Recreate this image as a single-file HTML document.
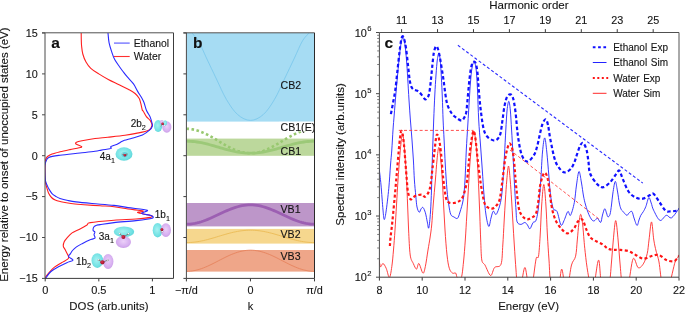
<!DOCTYPE html>
<html><head><meta charset="utf-8"><style>
html,body{margin:0;padding:0;background:#fff;}
svg{display:block;will-change:transform;}
text{font-family:"Liberation Sans", sans-serif;stroke:#151515;stroke-width:0.12px;}
</style></head><body>
<svg width="685" height="313" viewBox="0 0 685 313">
<clipPath id="ca"><rect x="45.0" y="33.0" width="128.5" height="245.39999999999998"/></clipPath>
<g clip-path="url(#ca)" fill="none" stroke-width="1.1" stroke-linejoin="round">
<path d="M81.20 33.00 C81.22 34.17 81.23 37.83 81.30 40.00 C81.37 42.17 81.35 43.67 81.60 46.00 C81.85 48.33 82.07 51.33 82.80 54.00 C83.53 56.67 84.67 59.62 86.00 62.00 C87.33 64.38 88.67 66.32 90.80 68.30 C92.93 70.28 95.88 72.03 98.80 73.90 C101.72 75.77 104.92 77.70 108.30 79.50 C111.68 81.30 115.70 83.03 119.10 84.70 C122.50 86.37 126.03 88.03 128.70 89.50 C131.37 90.97 133.37 92.03 135.10 93.50 C136.83 94.97 138.17 96.70 139.10 98.30 C140.03 99.90 140.17 101.15 140.70 103.10 C141.23 105.05 141.88 108.68 142.30 110.00 C142.72 111.32 142.52 109.90 143.20 111.00 C143.88 112.10 145.22 115.00 146.40 116.60 C147.58 118.20 149.37 119.13 150.30 120.60 C151.23 122.07 152.27 123.80 152.00 125.40 C151.73 127.00 151.37 128.87 148.70 130.20 C146.03 131.53 139.95 132.55 136.00 133.40 C132.05 134.25 129.70 134.67 125.00 135.30 C120.30 135.93 112.80 136.67 107.80 137.20 C102.80 137.73 99.30 137.90 95.00 138.50 C90.70 139.10 85.08 140.17 82.00 140.80 C78.92 141.43 77.50 141.77 76.50 142.30 C75.50 142.83 75.15 143.28 76.00 144.00 C76.85 144.72 81.10 145.97 81.60 146.60 C82.10 147.23 80.93 147.30 79.00 147.80 C77.07 148.30 73.17 148.93 70.00 149.60 C66.83 150.27 63.00 151.07 60.00 151.80 C57.00 152.53 54.08 153.22 52.00 154.00 C49.92 154.78 48.57 155.55 47.50 156.50 C46.43 157.45 46.00 158.62 45.60 159.70 C45.20 160.78 45.20 161.28 45.10 163.00 C45.00 164.72 45.00 167.50 45.00 170.00 C45.00 172.50 45.00 175.83 45.10 178.00 C45.20 180.17 45.35 181.50 45.60 183.00 C45.85 184.50 46.12 185.33 46.60 187.00 C47.08 188.67 47.68 191.25 48.50 193.00 C49.32 194.75 50.38 196.33 51.50 197.50 C52.62 198.67 53.62 199.30 55.20 200.00 C56.78 200.70 59.13 201.23 61.00 201.70 C62.87 202.17 64.07 202.42 66.40 202.80 C68.73 203.18 72.07 203.68 75.00 204.00 C77.93 204.32 79.83 204.40 84.00 204.70 C88.17 205.00 95.00 205.47 100.00 205.80 C105.00 206.13 109.33 206.17 114.00 206.70 C118.67 207.23 123.13 208.28 128.00 209.00 C132.87 209.72 141.60 210.40 143.20 211.00 C144.80 211.60 136.28 211.83 137.60 212.60 C138.92 213.37 148.98 214.80 151.10 215.60 C153.22 216.40 152.82 216.83 150.30 217.40 C147.78 217.97 142.05 218.53 136.00 219.00 C129.95 219.47 121.62 219.60 114.00 220.20 C106.38 220.80 94.80 221.80 90.30 222.60 C85.80 223.40 88.87 223.87 87.00 225.00 C85.13 226.13 81.58 228.08 79.10 229.40 C76.62 230.72 74.15 231.43 72.10 232.90 C70.05 234.37 68.12 236.73 66.80 238.20 C65.48 239.67 64.78 240.38 64.20 241.70 C63.62 243.02 63.15 244.78 63.30 246.10 C63.45 247.42 64.52 248.43 65.10 249.60 C65.68 250.77 66.22 251.93 66.80 253.10 C67.38 254.27 68.45 255.58 68.60 256.60 C68.75 257.62 68.88 258.18 67.70 259.20 C66.52 260.22 63.70 261.38 61.50 262.70 C59.30 264.02 56.53 265.48 54.50 267.10 C52.47 268.72 50.75 270.78 49.30 272.40 C47.85 274.02 46.48 275.70 45.80 276.80 C45.12 277.90 45.30 278.63 45.20 279.00" stroke="#ff2020"/>
<path d="M108.00 33.00 C108.18 34.63 108.45 39.57 109.10 42.80 C109.75 46.03 110.97 49.60 111.90 52.40 C112.83 55.20 113.43 57.22 114.70 59.60 C115.97 61.98 118.12 64.72 119.50 66.70 C120.88 68.68 121.73 69.83 123.00 71.50 C124.27 73.17 125.35 74.63 127.10 76.70 C128.85 78.77 131.77 81.50 133.50 83.90 C135.23 86.30 136.17 88.83 137.50 91.10 C138.83 93.37 140.43 95.63 141.50 97.50 C142.57 99.37 143.10 100.22 143.90 102.30 C144.70 104.38 145.53 108.05 146.30 110.00 C147.07 111.95 147.83 112.77 148.50 114.00 C149.17 115.23 149.72 115.90 150.30 117.40 C150.88 118.90 151.67 121.53 152.00 123.00 C152.33 124.47 152.72 125.00 152.30 126.20 C151.88 127.40 151.15 128.73 149.50 130.20 C147.85 131.67 145.32 133.67 142.40 135.00 C139.48 136.33 135.00 137.32 132.00 138.20 C129.00 139.08 126.32 139.63 124.40 140.30 C122.48 140.97 121.78 141.48 120.50 142.20 C119.22 142.92 117.97 144.02 116.70 144.60 C115.43 145.18 113.93 145.32 112.90 145.70 C111.87 146.08 110.73 146.50 110.50 146.90 C110.27 147.30 111.63 147.78 111.50 148.10 C111.37 148.42 111.38 148.47 109.70 148.80 C108.02 149.13 103.85 149.68 101.40 150.10 C98.95 150.52 98.57 150.82 95.00 151.30 C91.43 151.78 85.83 152.35 80.00 153.00 C74.17 153.65 65.20 154.47 60.00 155.20 C54.80 155.93 51.13 156.38 48.80 157.40 C46.47 158.42 46.63 160.03 46.00 161.30 C45.37 162.57 45.20 163.88 45.00 165.00 C44.80 166.12 44.80 166.33 44.80 168.00 C44.80 169.67 44.88 172.87 45.00 175.00 C45.12 177.13 45.17 179.13 45.50 180.80 C45.83 182.47 46.45 183.67 47.00 185.00 C47.55 186.33 47.97 187.37 48.80 188.80 C49.63 190.23 50.80 192.32 52.00 193.60 C53.20 194.88 54.67 195.70 56.00 196.50 C57.33 197.30 58.00 197.73 60.00 198.40 C62.00 199.07 65.33 199.92 68.00 200.50 C70.67 201.08 72.00 201.40 76.00 201.90 C80.00 202.40 85.67 202.92 92.00 203.50 C98.33 204.08 108.00 204.72 114.00 205.40 C120.00 206.08 122.47 206.80 128.00 207.60 C133.53 208.40 144.93 209.23 147.20 210.20 C149.47 211.17 140.95 212.50 141.60 213.40 C142.25 214.30 149.37 214.80 151.10 215.60 C152.83 216.40 154.52 217.37 152.00 218.20 C149.48 219.03 142.33 219.87 136.00 220.60 C129.67 221.33 120.00 221.93 114.00 222.60 C108.00 223.27 102.90 224.17 100.00 224.60 C97.10 225.03 97.60 224.83 96.60 225.20 C95.60 225.57 94.58 225.95 94.00 226.80 C93.42 227.65 92.95 229.43 93.10 230.30 C93.25 231.17 94.75 231.28 94.90 232.00 C95.05 232.72 94.00 233.57 94.00 234.60 C94.00 235.63 95.63 237.32 94.90 238.20 C94.17 239.08 91.65 239.03 89.60 239.90 C87.55 240.77 84.78 242.23 82.60 243.40 C80.42 244.57 78.18 245.72 76.50 246.90 C74.82 248.08 73.53 249.33 72.50 250.50 C71.47 251.67 70.95 252.88 70.30 253.90 C69.65 254.92 68.15 255.57 68.60 256.60 C69.05 257.63 73.30 259.08 73.00 260.10 C72.70 261.12 69.30 261.53 66.80 262.70 C64.30 263.87 60.63 265.63 58.00 267.10 C55.37 268.57 52.90 269.88 51.00 271.50 C49.10 273.12 47.52 275.55 46.60 276.80 C45.68 278.05 45.68 278.63 45.50 279.00" stroke="#2a2aff"/>
</g>
<defs><radialGradient id="gC" cx="0.45" cy="0.45" r="0.6"><stop offset="0" stop-color="#a6f2f2"/><stop offset="0.7" stop-color="#74e2e4"/><stop offset="1" stop-color="#5ad4d8"/></radialGradient><radialGradient id="gV" cx="0.5" cy="0.45" r="0.6"><stop offset="0" stop-color="#ecd0f9"/><stop offset="0.7" stop-color="#d6aef0"/><stop offset="1" stop-color="#c597e4"/></radialGradient><radialGradient id="gR" cx="0.4" cy="0.4" r="0.6"><stop offset="0" stop-color="#e03050"/><stop offset="1" stop-color="#9a0f25"/></radialGradient><radialGradient id="gH" cx="0.4" cy="0.4" r="0.6"><stop offset="0" stop-color="#ffffff"/><stop offset="1" stop-color="#8a8a8a"/></radialGradient></defs>
<ellipse cx="158.1" cy="126" rx="4.1" ry="6.1" fill="url(#gC)" fill-opacity="1"/>
<ellipse cx="166.8" cy="127" rx="4.6" ry="5.7" fill="url(#gV)" fill-opacity="1"/>
<ellipse cx="161.8" cy="122.1" rx="2.0" ry="2.2" fill="url(#gV)" fill-opacity="1"/>
<ellipse cx="165.2" cy="122.9" rx="1.8" ry="2.6" fill="url(#gC)" fill-opacity="1"/>
<path d="M160.8 125.8 L162.6 123.8 L164.6 125.6" stroke="#777" stroke-width="0.9" fill="none"/><circle cx="160.8" cy="125.8" r="0.6" fill="url(#gH)"/><circle cx="164.6" cy="125.6" r="0.6" fill="url(#gH)"/><circle cx="162.6" cy="123.8" r="1.3" fill="url(#gR)"/>
<ellipse cx="124" cy="154" rx="8.5" ry="6.8" fill="url(#gC)" fill-opacity="1"/>
<ellipse cx="124.6" cy="154.6" rx="3.2" ry="2.6" fill="#4cc6d4" fill-opacity="0.7"/>
<path d="M122.6 153.9 L124.9 155.2 L127.2 153.9" stroke="#777" stroke-width="0.9" fill="none"/><circle cx="122.6" cy="153.9" r="0.6" fill="url(#gH)"/><circle cx="127.2" cy="153.9" r="0.6" fill="url(#gH)"/><circle cx="124.9" cy="155.2" r="1.3" fill="url(#gR)"/>
<ellipse cx="157.6" cy="230.2" rx="4.9" ry="7.2" fill="url(#gC)" fill-opacity="1"/>
<ellipse cx="165.9" cy="230.1" rx="5.1" ry="6.8" fill="url(#gV)" fill-opacity="1"/>
<path d="M161.3 231.8 L161.9 229.4 L162.5 231.6" stroke="#777" stroke-width="0.9" fill="none"/><circle cx="161.3" cy="231.8" r="0.8" fill="url(#gH)"/><circle cx="162.5" cy="231.6" r="0.8" fill="url(#gH)"/><circle cx="161.9" cy="229.4" r="1.5" fill="url(#gR)"/>
<ellipse cx="124" cy="231.8" rx="10.2" ry="5.3" fill="url(#gC)" fill-opacity="1"/>
<ellipse cx="123.4" cy="242" rx="7.6" ry="5.9" fill="url(#gV)" fill-opacity="1"/>
<path d="M119.8 233.8 L123.4 237 L128.6 233.8" stroke="#777" stroke-width="0.9" fill="none"/><circle cx="119.8" cy="233.8" r="1.0" fill="url(#gH)"/><circle cx="128.6" cy="233.8" r="1.0" fill="url(#gH)"/><circle cx="123.4" cy="237" r="2.0" fill="url(#gR)"/>
<ellipse cx="97.3" cy="260.6" rx="5.8" ry="7.4" fill="url(#gC)" fill-opacity="1"/>
<ellipse cx="108.1" cy="261.5" rx="5.3" ry="7.6" fill="url(#gV)" fill-opacity="1"/>
<path d="M98.6 259.9 L102.4 262.3 L107.7 260.2" stroke="#777" stroke-width="0.9" fill="none"/><circle cx="98.6" cy="259.9" r="1.0" fill="url(#gH)"/><circle cx="107.7" cy="260.2" r="1.0" fill="url(#gH)"/><circle cx="102.4" cy="262.3" r="2.1" fill="url(#gR)"/>
<text x="130.7" y="126.9" font-size="10" fill="#151515">2b<tspan font-size="7.2" dy="2.9">2</tspan></text>
<text x="99.8" y="160.0" font-size="10" fill="#151515">4a<tspan font-size="7.2" dy="2.9">1</tspan></text>
<text x="154.8" y="218.0" font-size="10" fill="#151515">1b<tspan font-size="7.2" dy="2.9">1</tspan></text>
<text x="98.8" y="240.3" font-size="10" fill="#151515">3a<tspan font-size="7.2" dy="2.9">1</tspan></text>
<text x="75.9" y="264.6" font-size="10" fill="#151515">1b<tspan font-size="7.2" dy="2.9">2</tspan></text>
<line x1="114" y1="43.1" x2="129.7" y2="43.1" stroke="#6c6cff" stroke-width="1.3"/>
<line x1="114" y1="56.5" x2="129.7" y2="56.5" stroke="#ff3030" stroke-width="1.1"/>
<text x="133.8" y="46.7" font-size="10.4" fill="#151515">Ethanol</text>
<text x="133.8" y="59.6" font-size="10.4" fill="#151515">Water</text>
<text x="51.3" y="47.9" font-size="15.5" font-weight="bold" fill="#111">a</text>
<line x1="45.0" y1="278.4" x2="45.0" y2="32.8" stroke="#4a4a4a" stroke-width="1"/>
<line x1="42" y1="32.8" x2="173.5" y2="32.8" stroke="#505050" stroke-width="1"/>
<line x1="45.0" y1="278.4" x2="173.5" y2="278.4" stroke="#3c3c3c" stroke-width="1"/>
<line x1="173.5" y1="278.4" x2="173.5" y2="32.8" stroke="#3c3c3c" stroke-width="1"/>
<line x1="42.0" y1="278.40" x2="45.0" y2="278.40" stroke="#4a4a4a" stroke-width="1"/>
<text x="37.7" y="282.20" font-size="10.8" text-anchor="end" fill="#151515">−15</text>
<line x1="42.0" y1="237.50" x2="45.0" y2="237.50" stroke="#4a4a4a" stroke-width="1"/>
<text x="37.7" y="241.30" font-size="10.8" text-anchor="end" fill="#151515">−10</text>
<line x1="42.0" y1="196.60" x2="45.0" y2="196.60" stroke="#4a4a4a" stroke-width="1"/>
<text x="37.7" y="200.40" font-size="10.8" text-anchor="end" fill="#151515">−5</text>
<line x1="42.0" y1="155.70" x2="45.0" y2="155.70" stroke="#4a4a4a" stroke-width="1"/>
<text x="37.7" y="159.50" font-size="10.8" text-anchor="end" fill="#151515">0</text>
<line x1="42.0" y1="114.80" x2="45.0" y2="114.80" stroke="#4a4a4a" stroke-width="1"/>
<text x="37.7" y="118.60" font-size="10.8" text-anchor="end" fill="#151515">5</text>
<line x1="42.0" y1="73.90" x2="45.0" y2="73.90" stroke="#4a4a4a" stroke-width="1"/>
<text x="37.7" y="77.70" font-size="10.8" text-anchor="end" fill="#151515">10</text>
<line x1="42.0" y1="33.00" x2="45.0" y2="33.00" stroke="#4a4a4a" stroke-width="1"/>
<text x="37.7" y="36.80" font-size="10.8" text-anchor="end" fill="#151515">15</text>
<line x1="45.20" y1="278.4" x2="45.20" y2="281.4" stroke="#3c3c3c" stroke-width="1"/>
<text x="45.20" y="293.7" font-size="11" text-anchor="middle" fill="#151515">0</text>
<line x1="98.80" y1="278.4" x2="98.80" y2="281.4" stroke="#3c3c3c" stroke-width="1"/>
<text x="98.80" y="293.7" font-size="11" text-anchor="middle" fill="#151515">0.5</text>
<line x1="152.40" y1="278.4" x2="152.40" y2="281.4" stroke="#3c3c3c" stroke-width="1"/>
<text x="152.40" y="293.7" font-size="11" text-anchor="middle" fill="#151515">1</text>
<text x="108.9" y="310" font-size="11.4" text-anchor="middle" fill="#151515">DOS (arb.units)</text>
<text transform="translate(8.4 154.6) rotate(-90)" font-size="11.5" text-anchor="middle" fill="#151515">Energy relative to onset of unoccupied states (eV)</text>
<clipPath id="cb"><rect x="186.4" y="33.0" width="128.1" height="245.39999999999998"/></clipPath>
<g clip-path="url(#cb)">
<rect x="186.4" y="33" width="128.1" height="88.6" fill="#a6dcf3"/>
<rect x="186.4" y="138.6" width="128.1" height="17.200000000000017" fill="#bcd89c"/>
<rect x="186.4" y="203" width="128.1" height="23.400000000000006" fill="#bd96c9"/>
<rect x="186.4" y="228.9" width="128.1" height="14.699999999999989" fill="#f6d78e"/>
<rect x="186.4" y="250" width="128.1" height="21.600000000000023" fill="#efa689"/>
<path d="M186.45 27.00 C187.12 27.77 188.48 29.33 190.45 31.60 C192.42 33.87 195.58 36.20 198.25 40.60 C200.92 45.00 203.42 51.60 206.45 58.00 C209.48 64.40 213.12 72.08 216.45 79.00 C219.78 85.92 222.92 93.57 226.45 99.50 C229.98 105.43 233.65 111.12 237.65 114.60 C241.65 118.08 246.18 120.40 250.45 120.40 C254.72 120.40 259.25 118.08 263.25 114.60 C267.25 111.12 270.92 105.43 274.45 99.50 C277.98 93.57 281.12 85.92 284.45 79.00 C287.78 72.08 291.42 64.40 294.45 58.00 C297.48 51.60 299.98 45.00 302.65 40.60 C305.32 36.20 308.48 33.87 310.45 31.60 C312.42 29.33 313.78 27.77 314.45 27.00" stroke="#7dc8ec" stroke-width="0.9" fill="none"/>
<path d="M186.40 128.80 L188.53 128.87 L190.67 129.07 L192.81 129.40 L194.94 129.85 L197.07 130.43 L199.21 131.13 L201.34 131.93 L203.48 132.84 L205.62 133.83 L207.75 134.90 L209.88 136.04 L212.02 137.23 L214.16 138.46 L216.29 139.72 L218.42 141.00 L220.56 142.28 L222.69 143.54 L224.83 144.77 L226.96 145.96 L229.10 147.10 L231.23 148.17 L233.37 149.16 L235.50 150.07 L237.64 150.87 L239.77 151.57 L241.91 152.15 L244.04 152.60 L246.18 152.93 L248.31 153.13 L250.45 153.20 L252.59 153.13 L254.72 152.93 L256.86 152.60 L258.99 152.15 L261.12 151.57 L263.26 150.87 L265.39 150.07 L267.53 149.16 L269.66 148.17 L271.80 147.10 L273.94 145.96 L276.07 144.77 L278.20 143.54 L280.34 142.28 L282.47 141.00 L284.61 139.72 L286.75 138.46 L288.88 137.23 L291.01 136.04 L293.15 134.90 L295.28 133.83 L297.42 132.84 L299.56 131.93 L301.69 131.13 L303.82 130.43 L305.96 129.85 L308.09 129.40 L310.23 129.07 L312.37 128.87 L314.50 128.80" stroke="#98c86f" stroke-width="2.6" fill="none" stroke-dasharray="2.6 2.5"/>
<path d="M186.40 141.20 L188.53 141.23 L190.67 141.33 L192.81 141.49 L194.94 141.72 L197.07 142.00 L199.21 142.35 L201.34 142.74 L203.48 143.19 L205.62 143.67 L207.75 144.20 L209.88 144.76 L212.02 145.35 L214.16 145.95 L216.29 146.57 L218.42 147.20 L220.56 147.83 L222.69 148.45 L224.83 149.05 L226.96 149.64 L229.10 150.20 L231.23 150.73 L233.37 151.21 L235.50 151.66 L237.64 152.05 L239.77 152.40 L241.91 152.68 L244.04 152.91 L246.18 153.07 L248.31 153.17 L250.45 153.20 L252.59 153.17 L254.72 153.07 L256.86 152.91 L258.99 152.68 L261.12 152.40 L263.26 152.05 L265.39 151.66 L267.53 151.21 L269.66 150.73 L271.80 150.20 L273.94 149.64 L276.07 149.05 L278.20 148.45 L280.34 147.83 L282.47 147.20 L284.61 146.57 L286.75 145.95 L288.88 145.35 L291.01 144.76 L293.15 144.20 L295.28 143.67 L297.42 143.19 L299.56 142.74 L301.69 142.35 L303.82 142.00 L305.96 141.72 L308.09 141.49 L310.23 141.33 L312.37 141.23 L314.50 141.20" stroke="#9cc978" stroke-width="2.8" fill="none"/>
<path d="M186.40 224.20 L188.53 224.15 L190.67 223.99 L192.81 223.73 L194.94 223.37 L197.07 222.91 L199.21 222.36 L201.34 221.72 L203.48 221.01 L205.62 220.22 L207.75 219.38 L209.88 218.48 L212.02 217.53 L214.16 216.56 L216.29 215.56 L218.42 214.55 L220.56 213.54 L222.69 212.54 L224.83 211.57 L226.96 210.62 L229.10 209.72 L231.23 208.88 L233.37 208.09 L235.50 207.38 L237.64 206.74 L239.77 206.19 L241.91 205.73 L244.04 205.37 L246.18 205.11 L248.31 204.95 L250.45 204.90 L252.59 204.95 L254.72 205.11 L256.86 205.37 L258.99 205.73 L261.12 206.19 L263.26 206.74 L265.39 207.38 L267.53 208.09 L269.66 208.88 L271.80 209.72 L273.94 210.62 L276.07 211.57 L278.20 212.54 L280.34 213.54 L282.47 214.55 L284.61 215.56 L286.75 216.56 L288.88 217.53 L291.01 218.48 L293.15 219.38 L295.28 220.22 L297.42 221.01 L299.56 221.72 L301.69 222.36 L303.82 222.91 L305.96 223.37 L308.09 223.73 L310.23 223.99 L312.37 224.15 L314.50 224.20" stroke="#9c5fb2" stroke-width="2.8" fill="none"/>
<path d="M186.40 242.60 L188.53 242.57 L190.67 242.46 L192.81 242.30 L194.94 242.06 L197.07 241.77 L199.21 241.42 L201.34 241.01 L203.48 240.55 L205.62 240.04 L207.75 239.50 L209.88 238.92 L212.02 238.32 L214.16 237.69 L216.29 237.05 L218.42 236.40 L220.56 235.75 L222.69 235.11 L224.83 234.48 L226.96 233.88 L229.10 233.30 L231.23 232.76 L233.37 232.25 L235.50 231.79 L237.64 231.38 L239.77 231.03 L241.91 230.74 L244.04 230.50 L246.18 230.34 L248.31 230.23 L250.45 230.20 L252.59 230.23 L254.72 230.34 L256.86 230.50 L258.99 230.74 L261.12 231.03 L263.26 231.38 L265.39 231.79 L267.53 232.25 L269.66 232.76 L271.80 233.30 L273.94 233.88 L276.07 234.48 L278.20 235.11 L280.34 235.75 L282.47 236.40 L284.61 237.05 L286.75 237.69 L288.88 238.32 L291.01 238.92 L293.15 239.50 L295.28 240.04 L297.42 240.55 L299.56 241.01 L301.69 241.42 L303.82 241.77 L305.96 242.06 L308.09 242.30 L310.23 242.46 L312.37 242.57 L314.50 242.60" stroke="#ebbb56" stroke-width="0.9" fill="none"/>
<path d="M186.40 271.40 L188.53 271.34 L190.67 271.17 L192.81 270.88 L194.94 270.48 L197.07 269.98 L199.21 269.38 L201.34 268.68 L203.48 267.89 L205.62 267.03 L207.75 266.10 L209.88 265.11 L212.02 264.08 L214.16 263.00 L216.29 261.91 L218.42 260.80 L220.56 259.69 L222.69 258.60 L224.83 257.52 L226.96 256.49 L229.10 255.50 L231.23 254.57 L233.37 253.71 L235.50 252.92 L237.64 252.22 L239.77 251.62 L241.91 251.12 L244.04 250.72 L246.18 250.43 L248.31 250.26 L250.45 250.20 L252.59 250.26 L254.72 250.43 L256.86 250.72 L258.99 251.12 L261.12 251.62 L263.26 252.22 L265.39 252.92 L267.53 253.71 L269.66 254.57 L271.80 255.50 L273.94 256.49 L276.07 257.52 L278.20 258.60 L280.34 259.69 L282.47 260.80 L284.61 261.91 L286.75 263.00 L288.88 264.08 L291.01 265.11 L293.15 266.10 L295.28 267.03 L297.42 267.89 L299.56 268.68 L301.69 269.38 L303.82 269.98 L305.96 270.48 L308.09 270.88 L310.23 271.17 L312.37 271.34 L314.50 271.40" stroke="#e7835d" stroke-width="0.9" fill="none"/>
</g>
<text x="193.1" y="48.1" font-size="15.5" font-weight="bold" fill="#111">b</text>
<rect x="279.5" y="121.8" width="34.50" height="9.6" fill="#fff"/>
<text x="280.5" y="89.4" font-size="10.6" fill="#151515">CB2</text>
<text x="280.5" y="131.3" font-size="10.6" fill="#151515">CB1(E)</text>
<text x="280.5" y="155.1" font-size="10.6" fill="#151515">CB1</text>
<text x="280.5" y="213" font-size="10.6" fill="#151515">VB1</text>
<text x="280.5" y="237.7" font-size="10.6" fill="#151515">VB2</text>
<text x="280.5" y="260.2" font-size="10.6" fill="#151515">VB3</text>
<line x1="186.4" y1="278.4" x2="186.4" y2="32.8" stroke="#4a4a4a" stroke-width="1"/>
<line x1="183.4" y1="32.8" x2="314.5" y2="32.8" stroke="#505050" stroke-width="1"/>
<line x1="186.4" y1="278.4" x2="314.5" y2="278.4" stroke="#3c3c3c" stroke-width="1"/>
<line x1="314.5" y1="278.4" x2="314.5" y2="32.8" stroke="#2a2a2a" stroke-width="1"/>
<line x1="183.4" y1="278.40" x2="186.4" y2="278.40" stroke="#3c3c3c" stroke-width="1"/>
<line x1="183.4" y1="237.50" x2="186.4" y2="237.50" stroke="#3c3c3c" stroke-width="1"/>
<line x1="183.4" y1="196.60" x2="186.4" y2="196.60" stroke="#3c3c3c" stroke-width="1"/>
<line x1="183.4" y1="155.70" x2="186.4" y2="155.70" stroke="#3c3c3c" stroke-width="1"/>
<line x1="183.4" y1="114.80" x2="186.4" y2="114.80" stroke="#3c3c3c" stroke-width="1"/>
<line x1="183.4" y1="73.90" x2="186.4" y2="73.90" stroke="#3c3c3c" stroke-width="1"/>
<line x1="183.4" y1="33.00" x2="186.4" y2="33.00" stroke="#3c3c3c" stroke-width="1"/>
<line x1="186.40" y1="278.4" x2="186.40" y2="281.4" stroke="#3c3c3c" stroke-width="1"/>
<text x="186.40" y="293.9" font-size="10.8" text-anchor="middle" fill="#151515">−π/d</text>
<line x1="250.45" y1="278.4" x2="250.45" y2="281.4" stroke="#3c3c3c" stroke-width="1"/>
<text x="250.45" y="293.9" font-size="10.8" text-anchor="middle" fill="#151515">0</text>
<line x1="314.50" y1="278.4" x2="314.50" y2="281.4" stroke="#3c3c3c" stroke-width="1"/>
<text x="314.50" y="293.9" font-size="10.8" text-anchor="middle" fill="#151515">π/d</text>
<text x="250.4" y="310" font-size="11" text-anchor="middle" fill="#151515">k</text>
<clipPath id="cc"><rect x="379.4" y="32.5" width="299.6" height="244.7"/></clipPath>
<g clip-path="url(#cc)" fill="none" stroke-linejoin="round">
<path d="M379.00 259.60 C379.27 260.78 379.93 266.05 380.60 266.70 C381.27 267.35 382.07 263.23 383.00 263.50 C383.93 263.77 385.13 265.97 386.20 268.30 C387.27 270.63 388.47 277.77 389.40 277.50 C390.33 277.23 391.12 271.28 391.80 266.70 C392.48 262.12 392.97 256.12 393.50 250.00 C394.03 243.88 394.50 237.50 395.00 230.00 C395.50 222.50 396.00 213.33 396.50 205.00 C397.00 196.67 397.50 187.50 398.00 180.00 C398.50 172.50 399.00 166.17 399.50 160.00 C400.00 153.83 400.50 147.37 401.00 143.00 C401.50 138.63 402.00 133.80 402.50 133.80 C403.00 133.80 403.53 138.63 404.00 143.00 C404.47 147.37 404.87 153.83 405.30 160.00 C405.73 166.17 406.22 172.50 406.60 180.00 C406.98 187.50 407.27 196.67 407.60 205.00 C407.93 213.33 408.17 221.67 408.60 230.00 C409.03 238.33 409.42 249.42 410.20 255.00 C410.98 260.58 412.25 261.15 413.30 263.50 C414.35 265.85 415.57 269.10 416.50 269.10 C417.43 269.10 417.83 262.83 418.90 263.50 C419.97 264.17 421.83 272.57 422.90 273.10 C423.97 273.63 424.45 270.55 425.30 266.70 C426.15 262.85 427.22 254.78 428.00 250.00 C428.78 245.22 429.38 242.17 430.00 238.00 C430.62 233.83 431.17 230.50 431.70 225.00 C432.23 219.50 432.58 212.50 433.20 205.00 C433.82 197.50 434.77 187.50 435.40 180.00 C436.03 172.50 436.43 165.43 437.00 160.00 C437.57 154.57 438.17 147.40 438.80 147.40 C439.43 147.40 440.22 154.57 440.80 160.00 C441.38 165.43 441.83 172.50 442.30 180.00 C442.77 187.50 443.15 196.67 443.60 205.00 C444.05 213.33 444.43 221.67 445.00 230.00 C445.57 238.33 446.28 248.62 447.00 255.00 C447.72 261.38 448.38 265.28 449.30 268.30 C450.22 271.32 451.43 272.30 452.50 273.10 C453.57 273.90 454.90 272.35 455.70 273.10 C456.50 273.85 456.37 276.85 457.30 277.60 C458.23 278.35 460.27 280.20 461.30 277.60 C462.33 275.00 462.83 268.27 463.50 262.00 C464.17 255.73 464.75 247.83 465.30 240.00 C465.85 232.17 466.30 223.33 466.80 215.00 C467.30 206.67 467.80 198.33 468.30 190.00 C468.80 181.67 469.25 172.50 469.80 165.00 C470.35 157.50 470.92 150.67 471.60 145.00 C472.28 139.33 473.15 131.00 473.90 131.00 C474.65 131.00 475.48 139.33 476.10 145.00 C476.72 150.67 477.15 157.50 477.60 165.00 C478.05 172.50 478.43 181.67 478.80 190.00 C479.17 198.33 479.48 206.67 479.80 215.00 C480.12 223.33 480.37 232.50 480.70 240.00 C481.03 247.50 481.08 255.82 481.80 260.00 C482.52 264.18 483.53 262.52 485.00 265.10 C486.47 267.68 489.00 275.10 490.60 275.50 C492.20 275.90 492.87 269.37 494.60 267.50 C496.33 265.63 499.63 268.05 501.00 264.30 C502.37 260.55 502.28 252.05 502.80 245.00 C503.32 237.95 503.67 229.50 504.10 222.00 C504.53 214.50 504.95 207.00 505.40 200.00 C505.85 193.00 506.28 185.67 506.80 180.00 C507.32 174.33 507.93 166.00 508.50 166.00 C509.07 166.00 509.68 174.33 510.20 180.00 C510.72 185.67 511.15 193.00 511.60 200.00 C512.05 207.00 512.45 214.50 512.90 222.00 C513.35 229.50 513.78 237.00 514.30 245.00 C514.82 253.00 515.47 263.33 516.00 270.00 C516.53 276.67 516.68 282.50 517.50 285.00 C518.32 287.50 519.67 287.92 520.90 285.00 C522.13 282.08 523.65 267.50 524.90 267.50 C526.15 267.50 527.20 282.08 528.40 285.00 C529.60 287.92 530.82 289.37 532.10 285.00 C533.38 280.63 535.03 263.57 536.10 258.80 C537.17 254.03 537.82 260.37 538.50 256.40 C539.18 252.43 539.67 243.57 540.20 235.00 C540.73 226.43 541.10 213.42 541.70 205.00 C542.30 196.58 543.10 184.50 543.80 184.50 C544.50 184.50 545.30 196.58 545.90 205.00 C546.50 213.42 546.88 225.83 547.40 235.00 C547.92 244.17 548.37 251.67 549.00 260.00 C549.63 268.33 549.62 280.83 551.20 285.00 C552.78 289.17 556.75 287.65 558.50 285.00 C560.25 282.35 560.65 269.10 561.70 269.10 C562.75 269.10 563.75 282.35 564.80 285.00 C565.85 287.65 566.88 288.33 568.00 285.00 C569.12 281.67 570.23 269.80 571.50 265.00 C572.77 260.20 574.63 260.37 575.60 256.20 C576.57 252.03 576.77 245.37 577.30 240.00 C577.83 234.63 578.23 228.28 578.80 224.00 C579.37 219.72 580.07 214.30 580.70 214.30 C581.33 214.30 582.05 219.72 582.60 224.00 C583.15 228.28 583.63 235.90 584.00 240.00 C584.37 244.10 584.28 243.98 584.80 248.60 C585.32 253.22 586.15 261.63 587.10 267.70 C588.05 273.77 589.35 282.12 590.50 285.00 C591.65 287.88 592.65 289.15 594.00 285.00 C595.35 280.85 597.30 260.10 598.60 260.10 C599.90 260.10 600.10 280.85 601.80 285.00 C603.50 289.15 607.18 288.83 608.80 285.00 C610.42 281.17 610.75 269.50 611.50 262.00 C612.25 254.50 612.60 246.90 613.30 240.00 C614.00 233.10 614.90 220.60 615.70 220.60 C616.50 220.60 617.40 233.10 618.10 240.00 C618.80 246.90 619.17 254.50 619.90 262.00 C620.63 269.50 621.15 281.17 622.50 285.00 C623.85 288.83 626.23 289.37 628.00 285.00 C629.77 280.63 631.40 261.68 633.10 258.80 C634.80 255.92 636.50 266.85 638.20 267.70 C639.90 268.55 641.80 266.23 643.30 263.90 C644.80 261.57 646.25 257.68 647.20 253.70 C648.15 249.72 648.28 245.30 649.00 240.00 C649.72 234.70 650.70 221.90 651.50 221.90 C652.30 221.90 653.03 235.13 653.80 240.00 C654.57 244.87 655.23 247.43 656.10 251.10 C656.97 254.77 657.93 256.35 659.00 262.00 C660.07 267.65 660.85 281.17 662.50 285.00 C664.15 288.83 666.77 288.95 668.90 285.00 C671.03 281.05 673.60 266.10 675.30 261.30 C677.00 256.50 678.15 258.08 679.10 256.20 C680.05 254.32 680.68 251.03 681.00 250.00" stroke="#ff2a2a" stroke-width="0.9"/>
<path d="M379.10 167.90 C379.42 170.75 380.35 177.98 381.00 185.00 C381.65 192.02 382.47 204.25 383.00 210.00 C383.53 215.75 383.70 219.17 384.20 219.50 C384.70 219.83 385.23 217.20 386.00 212.00 C386.77 206.80 388.05 196.13 388.80 188.30 C389.55 180.47 390.00 171.38 390.50 165.00 C391.00 158.62 391.38 155.83 391.80 150.00 C392.22 144.17 392.60 135.83 393.00 130.00 C393.40 124.17 393.73 120.83 394.20 115.00 C394.67 109.17 395.28 101.17 395.80 95.00 C396.32 88.83 396.77 83.83 397.30 78.00 C397.83 72.17 398.42 65.50 399.00 60.00 C399.58 54.50 400.13 48.85 400.80 45.00 C401.47 41.15 402.30 36.90 403.00 36.90 C403.70 36.90 404.42 41.15 405.00 45.00 C405.58 48.85 406.05 54.50 406.50 60.00 C406.95 65.50 407.28 71.33 407.70 78.00 C408.12 84.67 408.55 93.00 409.00 100.00 C409.45 107.00 409.90 113.33 410.40 120.00 C410.90 126.67 411.50 133.33 412.00 140.00 C412.50 146.67 413.00 153.33 413.40 160.00 C413.80 166.67 414.00 174.00 414.40 180.00 C414.80 186.00 415.37 191.50 415.80 196.00 C416.23 200.50 416.43 204.28 417.00 207.00 C417.57 209.72 418.53 211.97 419.20 212.30 C419.87 212.63 420.37 209.80 421.00 209.00 C421.63 208.20 422.27 206.87 423.00 207.50 C423.73 208.13 424.68 210.38 425.40 212.80 C426.12 215.22 426.73 219.48 427.30 222.00 C427.87 224.52 428.27 229.57 428.80 227.90 C429.33 226.23 430.05 218.32 430.50 212.00 C430.95 205.68 431.25 197.00 431.50 190.00 C431.75 183.00 431.78 177.50 432.00 170.00 C432.22 162.50 432.52 153.33 432.80 145.00 C433.08 136.67 433.37 128.33 433.70 120.00 C434.03 111.67 434.42 102.50 434.80 95.00 C435.18 87.50 435.58 80.83 436.00 75.00 C436.42 69.17 436.83 63.63 437.30 60.00 C437.77 56.37 438.32 53.20 438.80 53.20 C439.28 53.20 439.77 55.87 440.20 60.00 C440.63 64.13 441.05 71.83 441.40 78.00 C441.75 84.17 442.02 90.00 442.30 97.00 C442.58 104.00 442.80 112.83 443.10 120.00 C443.40 127.17 443.73 132.50 444.10 140.00 C444.47 147.50 444.82 156.67 445.30 165.00 C445.78 173.33 446.42 183.33 447.00 190.00 C447.58 196.67 448.17 200.92 448.80 205.00 C449.43 209.08 449.93 212.50 450.80 214.50 C451.67 216.50 452.88 216.37 454.00 217.00 C455.12 217.63 456.50 219.13 457.50 218.30 C458.50 217.47 459.03 215.18 460.00 212.00 C460.97 208.82 462.47 204.53 463.30 199.20 C464.13 193.87 464.50 188.20 465.00 180.00 C465.50 171.80 465.83 159.17 466.30 150.00 C466.77 140.83 467.30 133.33 467.80 125.00 C468.30 116.67 468.85 107.17 469.30 100.00 C469.75 92.83 470.05 87.33 470.50 82.00 C470.95 76.67 471.38 71.37 472.00 68.00 C472.62 64.63 473.50 61.47 474.20 61.80 C474.90 62.13 475.65 65.30 476.20 70.00 C476.75 74.70 477.08 81.67 477.50 90.00 C477.92 98.33 478.20 110.83 478.70 120.00 C479.20 129.17 479.90 136.67 480.50 145.00 C481.10 153.33 481.72 161.67 482.30 170.00 C482.88 178.33 483.38 187.50 484.00 195.00 C484.62 202.50 485.20 209.77 486.00 215.00 C486.80 220.23 487.97 225.90 488.80 226.40 C489.63 226.90 490.25 220.53 491.00 218.00 C491.75 215.47 492.40 211.83 493.30 211.20 C494.20 210.57 495.13 215.97 496.40 214.20 C497.67 212.43 499.80 206.30 500.90 200.60 C502.00 194.90 502.40 187.60 503.00 180.00 C503.60 172.40 504.03 163.33 504.50 155.00 C504.97 146.67 505.37 137.50 505.80 130.00 C506.23 122.50 506.60 114.78 507.10 110.00 C507.60 105.22 508.27 101.30 508.80 101.30 C509.33 101.30 509.83 105.22 510.30 110.00 C510.77 114.78 511.15 122.50 511.60 130.00 C512.05 137.50 512.52 145.83 513.00 155.00 C513.48 164.17 514.00 175.83 514.50 185.00 C515.00 194.17 515.57 203.87 516.00 210.00 C516.43 216.13 516.28 219.40 517.10 221.80 C517.92 224.20 519.62 224.28 520.90 224.40 C522.18 224.52 523.70 222.40 524.80 222.50 C525.90 222.60 526.65 223.95 527.50 225.00 C528.35 226.05 528.97 229.22 529.90 228.80 C530.83 228.38 532.15 223.77 533.10 222.50 C534.05 221.23 534.87 222.58 535.60 221.20 C536.33 219.82 536.90 217.73 537.50 214.20 C538.10 210.67 538.65 205.70 539.20 200.00 C539.75 194.30 540.25 188.00 540.80 180.00 C541.35 172.00 541.85 159.02 542.50 152.00 C543.15 144.98 543.98 137.90 544.70 137.90 C545.42 137.90 546.12 145.82 546.80 152.00 C547.48 158.18 548.18 167.83 548.80 175.00 C549.42 182.17 549.75 189.38 550.50 195.00 C551.25 200.62 552.20 205.93 553.30 208.70 C554.40 211.47 555.82 208.88 557.10 211.60 C558.38 214.32 559.83 223.53 561.00 225.00 C562.17 226.47 562.95 222.65 564.10 220.40 C565.25 218.15 566.83 212.35 567.90 211.50 C568.97 210.65 569.43 216.78 570.50 215.30 C571.57 213.82 573.30 207.65 574.30 202.60 C575.30 197.55 575.72 190.18 576.50 185.00 C577.28 179.82 578.17 171.83 579.00 171.50 C579.83 171.17 580.75 178.92 581.50 183.00 C582.25 187.08 582.82 192.33 583.50 196.00 C584.18 199.67 584.72 201.93 585.60 205.00 C586.48 208.07 587.73 211.90 588.80 214.40 C589.87 216.90 591.08 218.93 592.00 220.00 C592.92 221.07 593.38 221.07 594.30 220.80 C595.22 220.53 596.43 218.13 597.50 218.40 C598.57 218.67 599.87 222.97 600.70 222.40 C601.53 221.83 601.83 217.27 602.50 215.00 C603.17 212.73 604.03 209.13 604.70 208.80 C605.37 208.47 605.97 211.67 606.50 213.00 C607.03 214.33 607.32 216.57 607.90 216.80 C608.48 217.03 609.40 216.37 610.00 214.40 C610.60 212.43 611.02 208.57 611.50 205.00 C611.98 201.43 612.27 196.93 612.90 193.00 C613.53 189.07 614.52 181.57 615.30 181.40 C616.08 181.23 616.93 188.40 617.60 192.00 C618.27 195.60 618.73 200.17 619.30 203.00 C619.87 205.83 620.38 207.58 621.00 209.00 C621.62 210.42 622.03 210.45 623.00 211.50 C623.97 212.55 625.80 215.05 626.80 215.30 C627.80 215.55 628.15 213.63 629.00 213.00 C629.85 212.37 631.07 210.67 631.90 211.50 C632.73 212.33 633.15 215.67 634.00 218.00 C634.85 220.33 636.17 225.17 637.00 225.50 C637.83 225.83 638.37 221.70 639.00 220.00 C639.63 218.30 640.07 216.72 640.80 215.30 C641.53 213.88 642.55 212.98 643.40 211.50 C644.25 210.02 645.00 208.70 645.90 206.40 C646.80 204.10 647.92 198.27 648.80 197.70 C649.68 197.13 650.40 200.92 651.20 203.00 C652.00 205.08 652.13 207.30 653.60 210.20 C655.07 213.10 657.88 219.55 660.00 220.40 C662.12 221.25 664.40 215.72 666.30 215.30 C668.20 214.88 669.48 218.75 671.40 217.90 C673.32 217.05 676.37 212.02 677.80 210.20 C679.23 208.38 679.63 207.53 680.00 207.00" stroke="#2323ff" stroke-width="0.9"/>
<path d="M389.90 246.00 C390.00 244.58 390.15 241.00 390.50 237.50 C390.85 234.00 391.53 229.25 392.00 225.00 C392.47 220.75 392.83 216.83 393.30 212.00 C393.77 207.17 394.32 201.33 394.80 196.00 C395.28 190.67 395.75 185.17 396.20 180.00 C396.65 174.83 397.07 170.00 397.50 165.00 C397.93 160.00 398.38 154.50 398.80 150.00 C399.22 145.50 399.60 141.17 400.00 138.00 C400.40 134.83 400.77 131.67 401.20 131.00 C401.63 130.33 402.13 131.67 402.60 134.00 C403.07 136.33 403.53 140.33 404.00 145.00 C404.47 149.67 404.93 156.17 405.40 162.00 C405.87 167.83 406.37 175.00 406.80 180.00 C407.23 185.00 407.38 188.80 408.00 192.00 C408.62 195.20 409.67 198.28 410.50 199.20 C411.33 200.12 412.03 198.12 413.00 197.50 C413.97 196.88 414.80 195.98 416.30 195.50 C417.80 195.02 420.55 194.38 422.00 194.60 C423.45 194.82 423.87 197.28 425.00 196.80 C426.13 196.32 427.85 193.83 428.80 191.70 C429.75 189.57 430.12 187.62 430.70 184.00 C431.28 180.38 431.70 175.17 432.30 170.00 C432.90 164.83 433.70 158.17 434.30 153.00 C434.90 147.83 435.43 142.08 435.90 139.00 C436.37 135.92 436.58 134.50 437.10 134.50 C437.62 134.50 438.35 135.92 439.00 139.00 C439.65 142.08 440.30 146.50 441.00 153.00 C441.70 159.50 442.37 170.50 443.20 178.00 C444.03 185.50 445.03 193.92 446.00 198.00 C446.97 202.08 447.72 201.67 449.00 202.50 C450.28 203.33 452.28 203.08 453.70 203.00 C455.12 202.92 456.22 202.63 457.50 202.00 C458.78 201.37 460.23 200.87 461.40 199.20 C462.57 197.53 463.55 195.20 464.50 192.00 C465.45 188.80 466.35 185.33 467.10 180.00 C467.85 174.67 468.35 166.17 469.00 160.00 C469.65 153.83 470.25 147.83 471.00 143.00 C471.75 138.17 472.75 131.67 473.50 131.00 C474.25 130.33 474.83 134.50 475.50 139.00 C476.17 143.50 476.67 150.83 477.50 158.00 C478.33 165.17 479.37 174.58 480.50 182.00 C481.63 189.42 483.05 198.25 484.30 202.50 C485.55 206.75 486.72 206.47 488.00 207.50 C489.28 208.53 490.67 208.95 492.00 208.70 C493.33 208.45 494.72 207.58 496.00 206.00 C497.28 204.42 498.62 203.53 499.70 199.20 C500.78 194.87 501.62 186.53 502.50 180.00 C503.38 173.47 504.17 165.33 505.00 160.00 C505.83 154.67 506.68 150.77 507.50 148.00 C508.32 145.23 509.07 143.07 509.90 143.40 C510.73 143.73 511.73 146.23 512.50 150.00 C513.27 153.77 513.93 160.37 514.50 166.00 C515.07 171.63 515.18 176.80 515.90 183.80 C516.62 190.80 517.78 202.72 518.80 208.00 C519.82 213.28 520.72 213.62 522.00 215.50 C523.28 217.38 525.00 218.88 526.50 219.30 C528.00 219.72 529.42 218.97 531.00 218.00 C532.58 217.03 534.75 216.50 536.00 213.50 C537.25 210.50 537.85 204.42 538.50 200.00 C539.15 195.58 539.23 190.92 539.90 187.00 C540.57 183.08 541.65 178.87 542.50 176.50 C543.35 174.13 544.08 172.22 545.00 172.80 C545.92 173.38 546.93 174.65 548.00 180.00 C549.07 185.35 550.40 198.90 551.40 204.90 C552.40 210.90 553.05 212.97 554.00 216.00 C554.95 219.03 555.77 220.85 557.10 223.10 C558.43 225.35 560.40 227.82 562.00 229.50 C563.60 231.18 565.28 232.78 566.70 233.20 C568.12 233.62 569.23 232.85 570.50 232.00 C571.77 231.15 573.13 229.77 574.30 228.10 C575.47 226.43 576.43 223.48 577.50 222.00 C578.57 220.52 579.75 219.40 580.70 219.20 C581.65 219.00 582.25 219.07 583.20 220.80 C584.15 222.53 585.20 226.82 586.40 229.60 C587.60 232.38 588.68 235.52 590.40 237.50 C592.12 239.48 594.58 240.30 596.70 241.50 C598.82 242.70 601.23 243.50 603.10 244.70 C604.97 245.90 606.25 247.85 607.90 248.70 C609.55 249.55 611.13 249.62 613.00 249.80 C614.87 249.98 616.58 249.60 619.10 249.80 C621.62 250.00 625.33 250.15 628.10 251.00 C630.87 251.85 633.15 253.62 635.70 254.90 C638.25 256.18 640.85 258.48 643.40 258.70 C645.95 258.92 648.45 256.83 651.00 256.20 C653.55 255.57 656.13 254.27 658.70 254.90 C661.27 255.53 663.85 258.93 666.40 260.00 C668.95 261.07 672.10 261.72 674.00 261.30 C675.90 260.88 676.80 258.55 677.80 257.50 C678.80 256.45 679.63 255.42 680.00 255.00" stroke="#ff1414" stroke-width="2.2" stroke-dasharray="3 2.4"/>
<path d="M390.90 114.10 C391.25 112.25 392.27 107.02 393.00 103.00 C393.73 98.98 394.55 95.50 395.30 90.00 C396.05 84.50 396.80 76.33 397.50 70.00 C398.20 63.67 398.92 56.83 399.50 52.00 C400.08 47.17 400.52 43.62 401.00 41.00 C401.48 38.38 401.90 36.72 402.40 36.30 C402.90 35.88 403.40 36.55 404.00 38.50 C404.60 40.45 405.33 43.58 406.00 48.00 C406.67 52.42 407.38 59.67 408.00 65.00 C408.62 70.33 409.12 76.33 409.70 80.00 C410.28 83.67 410.78 85.37 411.50 87.00 C412.22 88.63 413.03 89.17 414.00 89.80 C414.97 90.43 416.13 90.10 417.30 90.80 C418.47 91.50 419.72 92.60 421.00 94.00 C422.28 95.40 423.92 98.62 425.00 99.20 C426.08 99.78 426.80 98.47 427.50 97.50 C428.20 96.53 428.67 95.98 429.20 93.40 C429.73 90.82 430.20 86.40 430.70 82.00 C431.20 77.60 431.68 71.83 432.20 67.00 C432.72 62.17 433.18 56.42 433.80 53.00 C434.42 49.58 435.20 47.17 435.90 46.50 C436.60 45.83 437.32 47.08 438.00 49.00 C438.68 50.92 439.33 54.50 440.00 58.00 C440.67 61.50 441.37 66.00 442.00 70.00 C442.63 74.00 443.22 77.83 443.80 82.00 C444.38 86.17 444.88 91.17 445.50 95.00 C446.12 98.83 446.45 101.92 447.50 105.00 C448.55 108.08 450.38 111.42 451.80 113.50 C453.22 115.58 454.40 116.32 456.00 117.50 C457.60 118.68 460.07 120.52 461.40 120.60 C462.73 120.68 463.20 119.33 464.00 118.00 C464.80 116.67 465.62 115.60 466.20 112.60 C466.78 109.60 467.03 104.80 467.50 100.00 C467.97 95.20 468.50 88.63 469.00 83.80 C469.50 78.97 469.97 74.38 470.50 71.00 C471.03 67.62 471.58 65.07 472.20 63.50 C472.82 61.93 473.57 61.52 474.20 61.60 C474.83 61.68 475.45 62.10 476.00 64.00 C476.55 65.90 477.07 69.05 477.50 73.00 C477.93 76.95 478.10 81.87 478.60 87.70 C479.10 93.53 479.70 101.28 480.50 108.00 C481.30 114.72 482.28 123.25 483.40 128.00 C484.52 132.75 485.45 134.42 487.20 136.50 C488.95 138.58 492.10 140.17 493.90 140.50 C495.70 140.83 496.88 139.77 498.00 138.50 C499.12 137.23 499.85 135.98 500.60 132.90 C501.35 129.82 501.85 124.48 502.50 120.00 C503.15 115.52 503.75 109.83 504.50 106.00 C505.25 102.17 506.05 98.93 507.00 97.00 C507.95 95.07 509.20 94.23 510.20 94.40 C511.20 94.57 512.12 95.07 513.00 98.00 C513.88 100.93 514.68 105.72 515.50 112.00 C516.32 118.28 516.87 128.55 517.90 135.70 C518.93 142.85 520.12 150.58 521.70 154.90 C523.28 159.22 525.33 161.60 527.40 161.60 C529.47 161.60 532.42 157.67 534.10 154.90 C535.78 152.13 536.53 148.48 537.50 145.00 C538.47 141.52 539.07 137.50 539.90 134.00 C540.73 130.50 541.55 126.45 542.50 124.00 C543.45 121.55 544.68 119.13 545.60 119.30 C546.52 119.47 547.20 121.62 548.00 125.00 C548.80 128.38 549.20 133.65 550.40 139.60 C551.60 145.55 553.43 155.60 555.20 160.70 C556.97 165.80 559.28 168.27 561.00 170.20 C562.72 172.13 563.83 172.55 565.50 172.30 C567.17 172.05 569.50 170.42 571.00 168.70 C572.50 166.98 573.50 164.38 574.50 162.00 C575.50 159.62 576.08 157.07 577.00 154.40 C577.92 151.73 579.00 147.92 580.00 146.00 C581.00 144.08 581.92 142.30 583.00 142.90 C584.08 143.50 585.58 146.42 586.50 149.60 C587.42 152.78 587.90 158.02 588.50 162.00 C589.10 165.98 588.63 169.78 590.10 173.50 C591.57 177.22 595.10 182.02 597.30 184.30 C599.50 186.58 601.10 187.60 603.30 187.20 C605.50 186.80 608.30 184.18 610.50 181.90 C612.70 179.62 615.02 175.37 616.50 173.50 C617.98 171.63 618.40 169.90 619.40 170.70 C620.40 171.50 620.98 174.83 622.50 178.30 C624.02 181.77 626.32 188.30 628.50 191.50 C630.68 194.70 633.22 196.30 635.60 197.50 C637.98 198.70 640.40 199.10 642.80 198.70 C645.20 198.30 648.20 195.90 650.00 195.10 C651.80 194.30 652.00 192.70 653.60 193.90 C655.20 195.10 657.60 199.50 659.60 202.30 C661.60 205.10 663.80 209.18 665.60 210.70 C667.40 212.22 668.60 211.40 670.40 211.40 C672.20 211.40 674.88 211.10 676.40 210.70 C677.92 210.30 678.98 209.28 679.50 209.00" stroke="#1010ff" stroke-width="2.2" stroke-dasharray="3.5 2.4"/>
<path d="M457.9 45.3 L642.8 183.1" stroke="#2b2bff" stroke-width="1.1" stroke-dasharray="3 2.2"/>
<path d="M398.8 130.4 L473.5 130.4 M510 150 L599 219" stroke="#ff3a3a" stroke-width="0.9" stroke-dasharray="3 2.2"/>
</g>
<text x="384.6" y="48.3" font-size="15.5" font-weight="bold" fill="#111">c</text>
<line x1="592.8" y1="47.2" x2="606.5" y2="47.2" stroke="#1010ff" stroke-width="2.0" stroke-dasharray="2.7 2.6"/>
<text x="613.2" y="50.800000000000004" font-size="10" fill="#151515" word-spacing="0.9">Ethanol Exp</text>
<line x1="592.8" y1="62.5" x2="606.5" y2="62.5" stroke="#2323ff" stroke-width="1.0"/>
<text x="613.2" y="66.1" font-size="10" fill="#151515" word-spacing="0.9">Ethanol Sim</text>
<line x1="592.8" y1="77.9" x2="608.2" y2="77.9" stroke="#ff1414" stroke-width="2.0" stroke-dasharray="2 2.5"/>
<text x="613.2" y="81.5" font-size="10" fill="#151515" word-spacing="0.9">Water Exp</text>
<line x1="592.8" y1="93.3" x2="606.5" y2="93.3" stroke="#ff2a2a" stroke-width="1.0"/>
<text x="613.2" y="96.89999999999999" font-size="10" fill="#151515" word-spacing="0.9">Water Sim</text>
<line x1="379.4" y1="277.2" x2="379.4" y2="32.5" stroke="#4a4a4a" stroke-width="1"/>
<line x1="379.4" y1="32.5" x2="679.0" y2="32.5" stroke="#505050" stroke-width="1"/>
<line x1="379.4" y1="277.2" x2="679.0" y2="277.2" stroke="#3c3c3c" stroke-width="1"/>
<line x1="679.0" y1="277.2" x2="679.0" y2="32.5" stroke="#555" stroke-width="1"/>
<line x1="376.0" y1="277.20" x2="379.4" y2="277.20" stroke="#4a4a4a" stroke-width="1"/>
<text x="366.8" y="281.20" font-size="10.9" text-anchor="end" fill="#151515">10</text>
<text x="367.2" y="276.10" font-size="7.6" fill="#151515">2</text>
<line x1="377.2" y1="258.78" x2="379.4" y2="258.78" stroke="#6a6a6a" stroke-width="0.9"/>
<line x1="377.2" y1="248.01" x2="379.4" y2="248.01" stroke="#6a6a6a" stroke-width="0.9"/>
<line x1="377.2" y1="240.37" x2="379.4" y2="240.37" stroke="#6a6a6a" stroke-width="0.9"/>
<line x1="377.2" y1="234.44" x2="379.4" y2="234.44" stroke="#6a6a6a" stroke-width="0.9"/>
<line x1="377.2" y1="229.60" x2="379.4" y2="229.60" stroke="#6a6a6a" stroke-width="0.9"/>
<line x1="377.2" y1="225.50" x2="379.4" y2="225.50" stroke="#6a6a6a" stroke-width="0.9"/>
<line x1="377.2" y1="221.95" x2="379.4" y2="221.95" stroke="#6a6a6a" stroke-width="0.9"/>
<line x1="377.2" y1="218.82" x2="379.4" y2="218.82" stroke="#6a6a6a" stroke-width="0.9"/>
<line x1="376.0" y1="216.02" x2="379.4" y2="216.02" stroke="#4a4a4a" stroke-width="1"/>
<text x="366.8" y="220.02" font-size="10.9" text-anchor="end" fill="#151515">10</text>
<text x="367.2" y="214.92" font-size="7.6" fill="#151515">3</text>
<line x1="377.2" y1="197.61" x2="379.4" y2="197.61" stroke="#6a6a6a" stroke-width="0.9"/>
<line x1="377.2" y1="186.84" x2="379.4" y2="186.84" stroke="#6a6a6a" stroke-width="0.9"/>
<line x1="377.2" y1="179.19" x2="379.4" y2="179.19" stroke="#6a6a6a" stroke-width="0.9"/>
<line x1="377.2" y1="173.27" x2="379.4" y2="173.27" stroke="#6a6a6a" stroke-width="0.9"/>
<line x1="377.2" y1="168.42" x2="379.4" y2="168.42" stroke="#6a6a6a" stroke-width="0.9"/>
<line x1="377.2" y1="164.33" x2="379.4" y2="164.33" stroke="#6a6a6a" stroke-width="0.9"/>
<line x1="377.2" y1="160.78" x2="379.4" y2="160.78" stroke="#6a6a6a" stroke-width="0.9"/>
<line x1="377.2" y1="157.65" x2="379.4" y2="157.65" stroke="#6a6a6a" stroke-width="0.9"/>
<line x1="376.0" y1="154.85" x2="379.4" y2="154.85" stroke="#4a4a4a" stroke-width="1"/>
<text x="366.8" y="158.85" font-size="10.9" text-anchor="end" fill="#151515">10</text>
<text x="367.2" y="153.75" font-size="7.6" fill="#151515">4</text>
<line x1="377.2" y1="136.43" x2="379.4" y2="136.43" stroke="#6a6a6a" stroke-width="0.9"/>
<line x1="377.2" y1="125.66" x2="379.4" y2="125.66" stroke="#6a6a6a" stroke-width="0.9"/>
<line x1="377.2" y1="118.02" x2="379.4" y2="118.02" stroke="#6a6a6a" stroke-width="0.9"/>
<line x1="377.2" y1="112.09" x2="379.4" y2="112.09" stroke="#6a6a6a" stroke-width="0.9"/>
<line x1="377.2" y1="107.25" x2="379.4" y2="107.25" stroke="#6a6a6a" stroke-width="0.9"/>
<line x1="377.2" y1="103.15" x2="379.4" y2="103.15" stroke="#6a6a6a" stroke-width="0.9"/>
<line x1="377.2" y1="99.60" x2="379.4" y2="99.60" stroke="#6a6a6a" stroke-width="0.9"/>
<line x1="377.2" y1="96.47" x2="379.4" y2="96.47" stroke="#6a6a6a" stroke-width="0.9"/>
<line x1="376.0" y1="93.68" x2="379.4" y2="93.68" stroke="#4a4a4a" stroke-width="1"/>
<text x="366.8" y="97.68" font-size="10.9" text-anchor="end" fill="#151515">10</text>
<text x="367.2" y="92.58" font-size="7.6" fill="#151515">5</text>
<line x1="377.2" y1="75.26" x2="379.4" y2="75.26" stroke="#6a6a6a" stroke-width="0.9"/>
<line x1="377.2" y1="64.49" x2="379.4" y2="64.49" stroke="#6a6a6a" stroke-width="0.9"/>
<line x1="377.2" y1="56.84" x2="379.4" y2="56.84" stroke="#6a6a6a" stroke-width="0.9"/>
<line x1="377.2" y1="50.92" x2="379.4" y2="50.92" stroke="#6a6a6a" stroke-width="0.9"/>
<line x1="377.2" y1="46.07" x2="379.4" y2="46.07" stroke="#6a6a6a" stroke-width="0.9"/>
<line x1="377.2" y1="41.98" x2="379.4" y2="41.98" stroke="#6a6a6a" stroke-width="0.9"/>
<line x1="377.2" y1="38.43" x2="379.4" y2="38.43" stroke="#6a6a6a" stroke-width="0.9"/>
<line x1="377.2" y1="35.30" x2="379.4" y2="35.30" stroke="#6a6a6a" stroke-width="0.9"/>
<line x1="376.0" y1="32.50" x2="379.4" y2="32.50" stroke="#4a4a4a" stroke-width="1"/>
<text x="366.8" y="36.50" font-size="10.9" text-anchor="end" fill="#151515">10</text>
<text x="367.2" y="31.40" font-size="7.6" fill="#151515">6</text>
<line x1="379.40" y1="277.2" x2="379.40" y2="280.59999999999997" stroke="#3c3c3c" stroke-width="1"/>
<text x="379.40" y="293.6" font-size="10.8" text-anchor="middle" fill="#151515">8</text>
<line x1="422.20" y1="277.2" x2="422.20" y2="280.59999999999997" stroke="#3c3c3c" stroke-width="1"/>
<text x="422.20" y="293.6" font-size="10.8" text-anchor="middle" fill="#151515">10</text>
<line x1="465.00" y1="277.2" x2="465.00" y2="280.59999999999997" stroke="#3c3c3c" stroke-width="1"/>
<text x="465.00" y="293.6" font-size="10.8" text-anchor="middle" fill="#151515">12</text>
<line x1="507.80" y1="277.2" x2="507.80" y2="280.59999999999997" stroke="#3c3c3c" stroke-width="1"/>
<text x="507.80" y="293.6" font-size="10.8" text-anchor="middle" fill="#151515">14</text>
<line x1="550.60" y1="277.2" x2="550.60" y2="280.59999999999997" stroke="#3c3c3c" stroke-width="1"/>
<text x="550.60" y="293.6" font-size="10.8" text-anchor="middle" fill="#151515">16</text>
<line x1="593.40" y1="277.2" x2="593.40" y2="280.59999999999997" stroke="#3c3c3c" stroke-width="1"/>
<text x="593.40" y="293.6" font-size="10.8" text-anchor="middle" fill="#151515">18</text>
<line x1="636.20" y1="277.2" x2="636.20" y2="280.59999999999997" stroke="#3c3c3c" stroke-width="1"/>
<text x="636.20" y="293.6" font-size="10.8" text-anchor="middle" fill="#151515">20</text>
<line x1="679.00" y1="277.2" x2="679.00" y2="280.59999999999997" stroke="#3c3c3c" stroke-width="1"/>
<text x="679.00" y="293.6" font-size="10.8" text-anchor="middle" fill="#151515">22</text>
<text x="528.6" y="310" font-size="11.4" text-anchor="middle" fill="#151515">Energy (eV)</text>
<line x1="401.60" y1="32.5" x2="401.60" y2="29.1" stroke="#3c3c3c" stroke-width="1"/>
<text x="401.60" y="23.9" font-size="10.8" text-anchor="middle" fill="#151515">11</text>
<line x1="437.54" y1="32.5" x2="437.54" y2="29.1" stroke="#3c3c3c" stroke-width="1"/>
<text x="437.54" y="23.9" font-size="10.8" text-anchor="middle" fill="#151515">13</text>
<line x1="473.48" y1="32.5" x2="473.48" y2="29.1" stroke="#3c3c3c" stroke-width="1"/>
<text x="473.48" y="23.9" font-size="10.8" text-anchor="middle" fill="#151515">15</text>
<line x1="509.42" y1="32.5" x2="509.42" y2="29.1" stroke="#3c3c3c" stroke-width="1"/>
<text x="509.42" y="23.9" font-size="10.8" text-anchor="middle" fill="#151515">17</text>
<line x1="545.36" y1="32.5" x2="545.36" y2="29.1" stroke="#3c3c3c" stroke-width="1"/>
<text x="545.36" y="23.9" font-size="10.8" text-anchor="middle" fill="#151515">19</text>
<line x1="581.30" y1="32.5" x2="581.30" y2="29.1" stroke="#3c3c3c" stroke-width="1"/>
<text x="581.30" y="23.9" font-size="10.8" text-anchor="middle" fill="#151515">21</text>
<line x1="617.24" y1="32.5" x2="617.24" y2="29.1" stroke="#3c3c3c" stroke-width="1"/>
<text x="617.24" y="23.9" font-size="10.8" text-anchor="middle" fill="#151515">23</text>
<line x1="653.18" y1="32.5" x2="653.18" y2="29.1" stroke="#3c3c3c" stroke-width="1"/>
<text x="653.18" y="23.9" font-size="10.8" text-anchor="middle" fill="#151515">25</text>
<text x="528.9" y="8.7" font-size="11.5" text-anchor="middle" fill="#151515">Harmonic order</text>
<text transform="translate(344.2 154.4) rotate(-90)" font-size="11.5" text-anchor="middle" fill="#151515">Spectral intensity (arb.units)</text>
</svg>
</body></html>
